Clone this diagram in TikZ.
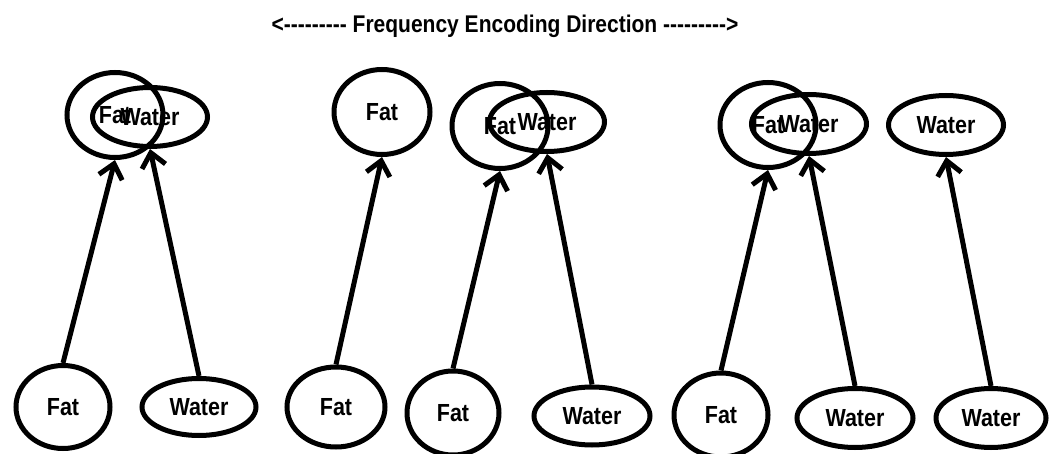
\documentclass[tikz,border=0pt]{standalone}
\usepackage{fontspec}
\newfontfamily\labelfont{Liberation Sans}
\usetikzlibrary{shapes.geometric,arrows.meta}
% labels are set slightly taller than the font's natural shape
\newcommand\tallbox[1]{\scalebox{1}[1.15]{#1}}

\begin{document}
\begin{tikzpicture}[x=1pt,y=-1pt,
  blob/.style={draw,ellipse,line width=5pt,inner sep=0pt,
    font=\labelfont\bfseries\fontsize{21.5}{24}\selectfont},
  fat/.style={blob,minimum width=96pt,minimum height=85pt},
  water/.style={blob,minimum width=115pt,minimum height=59pt},
  link/.style={line width=5pt,
    -{Straight Barb[length=14pt,width=24pt,line width=5pt]}}
]
\useasboundingbox[fill=white] (0,0) rectangle (1049,454);

% heading
\node[anchor=base,inner sep=0pt,font=\labelfont\bfseries\fontsize{21}{24}\selectfont]
  (title) at (505,33) {\tallbox{<--------- Frequency Encoding Direction --------->}};

% upper row: where the signals end up
\node[fat]   (t1f) at (115,115) {\tallbox{Fat}};
\node[water] (t1w) at (150,117) {\tallbox{Water}};
\node[fat]   (t2f) at (382,112) {\tallbox{Fat}};
\node[fat]   (t3f) at (500,126) {\tallbox{Fat}};
\node[water] (t3w) at (547,122) {\tallbox{Water}};
\node[fat]   (t4f) at (768,125) {\tallbox{Fat}};
\node[water] (t4w) at (809,124) {\tallbox{Water}};
\node[water] (t5w) at (946,125) {\tallbox{Water}};

% lower row: where the signals come from
\node[fat,minimum width=94pt,minimum height=83pt]   (b1) at (63,407)  {\tallbox{Fat}};
\node[water,minimum width=114pt,minimum height=57pt] (b2) at (199,407) {\tallbox{Water}};
\node[fat,minimum width=98pt,minimum height=80pt]   (b3) at (336,407) {\tallbox{Fat}};
\node[fat,minimum width=92pt,minimum height=84pt]   (b4) at (453,413) {\tallbox{Fat}};
\node[water,minimum width=116pt,minimum height=58pt] (b5) at (592,416) {\tallbox{Water}};
\node[fat,minimum width=94pt,minimum height=84pt]   (b6) at (721,415) {\tallbox{Fat}};
\node[water,minimum width=116pt,minimum height=59pt] (b7) at (855,418) {\tallbox{Water}};
\node[water,minimum width=110pt,minimum height=59pt] (b8) at (991,418) {\tallbox{Water}};

% shifts
\draw[link] (b1.north) -- (t1f.south);
\draw[link] (b2.north) -- (t1w.south);
\draw[link] (b3.north) -- (t2f.south);
\draw[link] (b4.north) -- (t3f.south);
\draw[link] (b5.north) -- (t3w.south);
\draw[link] (b6.north) -- (t4f.south);
\draw[link] (b7.north) -- (t4w.south);
\draw[link] (b8.north) -- (t5w.south);
\end{tikzpicture}
\end{document}
